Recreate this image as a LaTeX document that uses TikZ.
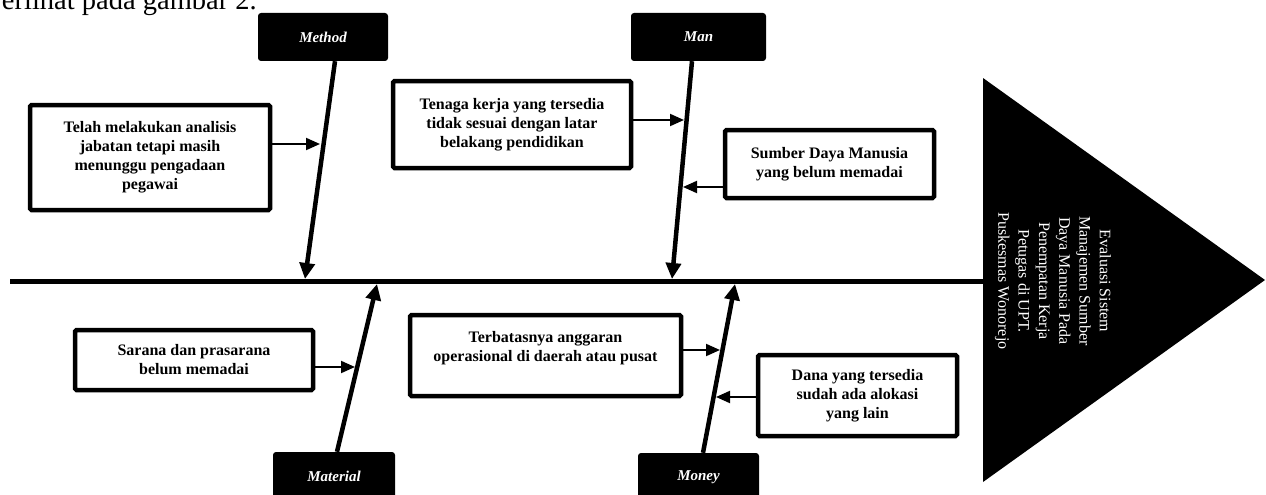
\documentclass[tikz,border=0pt]{standalone}
\usepackage{fontspec}
\setmainfont{Liberation Serif}
\usetikzlibrary{arrows.meta}

\begin{document}
\begin{tikzpicture}[x=1pt,y=-1pt,
    cat/.style={fill=black,rounded corners=3pt,inner sep=0pt,text=white,
      font=\fontsize{15}{18}\selectfont\bfseries\itshape},
    cause/.style={draw,line width=4.5pt,rounded corners=1.5pt,inner sep=0pt,
      align=center,font=\fontsize{16}{19}\selectfont\bfseries},
    bone/.style={line width=4.5pt,-{Triangle[length=16pt,width=15pt]}},
    feed/.style={line width=2pt,-{Triangle[length=14pt,width=12pt]}}]
      \clip (0,0) rectangle (1266,495);
      \node[anchor=base east,inner sep=0pt,font=\fontsize{28.5}{30}\selectfont](caption) at(257,10) {erlihat pada gambar 2.};

      % head and spine
      \fill (983,78) -- (1265,280) -- (983,482) -- cycle;
      \coordinate(head) at(983,281);
      \coordinate(tail) at(10,281);
      \node[rotate=-90,text=white,align=center,inner sep=0pt,
        font=\fontsize{16}{20.3}\selectfont](goal) at(1053,281)
        {Evaluasi Sistem\\Manajemen Sumber\\Daya Manusia Pada\\Penempatan Kerja\\Petugas di UPT.\\Puskesmas Wonorejo};
      \draw[line width=5pt](tail)--(head);

      % categories
      \node[cat,minimum width=130pt,minimum height=48pt](method)   at(323,37)    {Method};
      \node[cat,minimum width=135pt,minimum height=48pt](man)      at(698.5,37)  {Man};
      \node[cat,minimum width=122pt,minimum height=48pt](material) at(334,476)   {Material};
      \node[cat,minimum width=121pt,minimum height=48pt](money)    at(698.5,477) {Money};
      \coordinate(method-tip)   at(305,279);
      \coordinate(man-tip)      at(672,279);
      \coordinate(material-tip) at(377,284);
      \coordinate(money-tip)    at(735,284);
      \foreach \n/\a/\s in {method/south/12, man/south/-6.5,
        material/north/3, money/north/4.5}{
        \draw[bone]([xshift=\s]\n.\a)--(\n-tip);
      }

      % causes
      \node[cause,minimum width=240pt,minimum height=105pt](telah) at(150,157.5)
        {Telah melakukan analisis\\jabatan tetapi masih\\menunggu pengadaan\\pegawai};
      \node[cause,minimum width=238pt,minimum height=87pt](tenaga) at(512,124.5)
        {Tenaga kerja yang tersedia\\tidak sesuai dengan latar\\belakang pendidikan};
      \node[cause,minimum width=209pt,minimum height=68pt](sumber) at(829.5,164)
        {Sumber Daya Manusia\\yang belum memadai};
      \node[cause,minimum width=238pt,minimum height=60pt](sarana) at(194,360)
        {Sarana dan prasarana\\belum memadai};
      \node[cause,minimum width=271pt,minimum height=81pt](terbatas) at(545.5,355.5)
        {Terbatasnya anggaran\\operasional di daerah atau pusat\\\mbox{}};
      \node[cause,minimum width=199pt,minimum height=81pt](dana) at(857.5,395.5)
        {Dana yang tersedia\\sudah ada alokasi\\yang lain};

      \coordinate(c1) at(320,144);
      \coordinate(c2) at(684,120);
      \coordinate(c3) at(683,187);
      \coordinate(c4) at(355,367);
      \coordinate(c5) at(720,350);
      \coordinate(c6) at(716,397);
      \foreach \x/\y in {telah.east/c1, tenaga.east/c2, sumber.west/c3,
        sarana.east/c4, terbatas.east/c5, dana.west/c6}{
        \draw[feed](\x |- \y)--(\y);
      }
    \end{tikzpicture}
\end{document}
